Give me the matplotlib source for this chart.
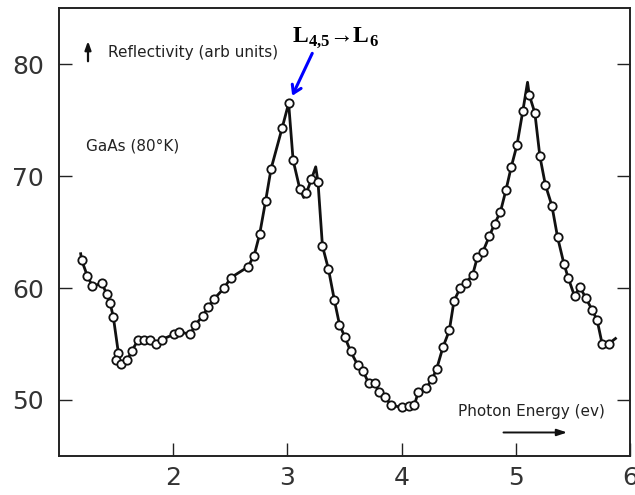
import numpy as np
import matplotlib
matplotlib.use("Agg")
from matplotlib import pyplot as plt

# GaAs (80 K) reflectivity
energy = [1.190, 1.199, 1.248, 1.292, 1.375, 1.418, 1.447, 1.476, 1.520, 1.500,
          1.544, 1.599, 1.638, 1.696, 1.746, 1.798, 1.848, 1.901, 2.003, 2.055,
          2.149, 2.193, 2.261, 2.304, 2.354, 2.443, 2.506, 2.652, 2.708, 2.757,
          2.810, 2.857, 2.954, 3.011, 3.050, 3.108, 3.143, 3.165, 3.211, 3.248,
          3.268, 3.307, 3.360, 3.412, 3.456, 3.503, 3.553, 3.614, 3.664, 3.711,
          3.763, 3.804, 3.857, 3.910, 4.006, 4.064, 4.111, 4.146, 4.217, 4.269,
          4.307, 4.362, 4.418, 4.459, 4.511, 4.561, 4.621, 4.664, 4.711, 4.769,
          4.816, 4.866, 4.915, 4.959, 5.011, 5.061, 5.103, 5.118, 5.167, 5.211,
          5.259, 5.316, 5.366, 5.421, 5.459, 5.515, 5.561, 5.612, 5.667, 5.713,
          5.756, 5.813, 5.873]
reflectivity = [63.06, 62.47, 61.09, 60.17, 60.41, 59.48, 58.68, 57.40, 54.20, 53.61,
                53.25, 53.55, 54.41, 55.40, 55.40, 55.40, 55.04, 55.40, 55.85, 56.10,
                55.85, 56.71, 57.53, 58.29, 58.98, 59.96, 60.93, 61.87, 62.86, 64.80,
                67.81, 70.64, 74.29, 76.49, 71.42, 68.88, 68.08, 68.45, 69.72, 70.82,
                69.48, 63.75, 61.67, 58.89, 56.74, 55.63, 54.35, 53.16, 52.56, 51.51,
                51.51, 50.71, 50.23, 49.52, 49.34, 49.43, 49.52, 50.71, 51.07, 51.91,
                52.77, 54.71, 56.21, 58.85, 59.96, 60.47, 61.13, 62.77, 63.21, 64.65,
                65.75, 66.82, 68.79, 70.76, 72.79, 75.77, 78.37, 77.24, 75.63, 71.76,
                69.21, 67.36, 64.53, 62.18, 60.91, 59.26, 60.11, 59.12, 58.08, 57.10,
                55.02, 55.02, 55.49]
# points where the hand-drawn line bends without a measured circle
unmarked = [0, 36, 39, 76, 92]

x_ticks = [2, 3, 4, 5, 6]
y_ticks = [50, 60, 70, 80]

plt.rcParams['mathtext.fontset'] = 'custom'
plt.rcParams['mathtext.rm'] = 'Liberation Serif:bold'
plt.rcParams['mathtext.bf'] = 'Liberation Serif:bold'

fig = plt.figure(figsize=(6.35, 4.95), dpi=100)
ax = fig.add_axes([0.0929, 0.0788, 0.8992, 0.905])

e = np.array(energy)
r = np.array(reflectivity)
marked = np.ones(len(e), dtype=bool)
marked[unmarked] = False

ax.plot(e, r, '-', color='#111111', lw=2.0, zorder=2)
ax.plot(e[marked], r[marked], 'o', ms=6, mfc='white', mec='#111111', mew=1.3, zorder=3)

ax.set_xlim(1, 6)
ax.set_ylim(45, 85)
ax.set_xticks(x_ticks)
ax.set_yticks(y_ticks)
ax.tick_params(direction='in', length=9.5, width=1.0, colors='#222222',
               labelsize=18, labelcolor='#333333', right=True, labelright=False)
ax.tick_params(axis='x', pad=7)
ax.tick_params(axis='y', pad=11)
for s in ax.spines.values():
    s.set_color('#222222')
    s.set_linewidth(1.4)

txt = dict(fontsize=11, color='#222222', family='DejaVu Sans')
ax.text(1.43, 81.03, 'Reflectivity (arb units)', va='center', ha='left', **txt)
ax.annotate('', xy=(1.254, 82.3), xytext=(1.254, 80.0),
            arrowprops=dict(arrowstyle='-|>,head_length=0.5,head_width=0.18', color='#111111', lw=1.6))
ax.text(1.237, 72.7, 'GaAs (80°K)', va='center', ha='left', **txt)
ax.text(4.49, 48.98, 'Photon Energy (ev)', va='center', ha='left', **txt)
ax.annotate('', xy=(5.474, 47.1), xytext=(4.868, 47.1),
            arrowprops=dict(arrowstyle='-|>,head_length=0.6,head_width=0.2', color='#111111', lw=1.4))

# transition label with blue arrow to the first peak
peak = int(np.argmax(r[:40]))
ax.text(3.04, 82.4, r'L$_{4{,}5}$→L$_6$', va='center', ha='left', fontsize=17,
        fontweight='bold', family=['Liberation Serif', 'DejaVu Serif'], color='black')
ax.annotate('', xy=(e[peak], r[peak]), xytext=(17, 36), textcoords='offset points',
            arrowprops=dict(arrowstyle='->,head_length=0.55,head_width=0.35', color='#0000ff',
                            lw=2.2, shrinkA=0, shrinkB=6))

fig.savefig('out.png', dpi=100)
